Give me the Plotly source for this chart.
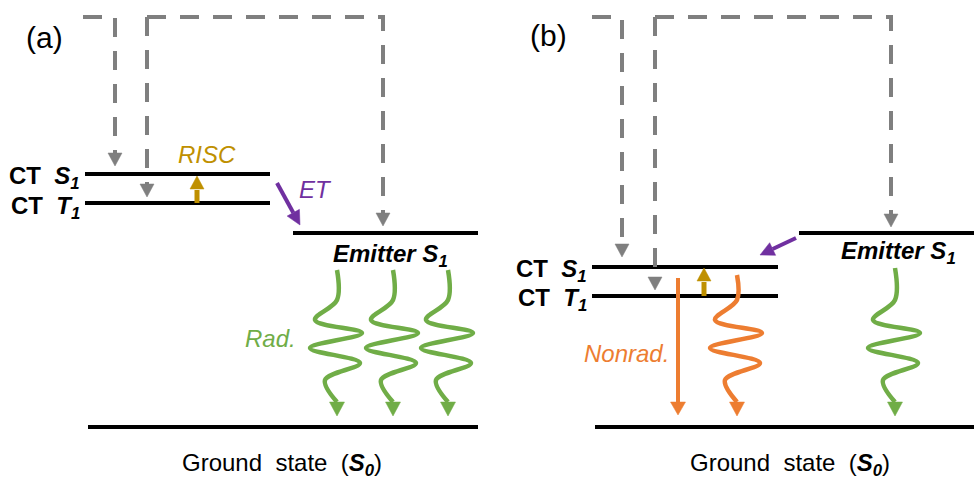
import numpy as np
import plotly.graph_objects as go

W, H = 974, 479
GRAY = "#7f7f7f"
GOLD = "#bf9000"
PURPLE = "#7030a0"
GREEN = "#70ad47"
ORANGE = "#ed7d31"
FONT = "Liberation Sans, Arial, sans-serif"

# ---- energy levels (diagram units, y grows downward) ----
level_names = ["a CT S1", "a CT T1", "a Emitter S1", "a Ground",
               "b CT S1", "b CT T1", "b Emitter S1", "b Ground"]
level_x0 = [85, 85, 293, 88, 592, 592, 799, 595]
level_x1 = [270, 270, 478, 478, 778, 778, 974, 974]
level_y = [174, 203, 233, 427, 267, 296, 233, 427]

# ---- excitation (dashed grey) paths ----
exc_start_x = [83, 147, 147, 592, 655, 655]
exc_drop_x = [115, 383, 147, 622, 891, 655]
exc_top_y = 17
exc_tip_y = [166, 226, 197, 257, 227, 290]

# ---- RISC arrows ----
risc_x = [197, 704]
risc_from_y = [203, 296]
risc_to_y = [176, 268]

# ---- energy-transfer arrows ----
et_x0 = [277, 796]
et_y0 = [183, 238]
et_x1 = [300, 760]
et_y1 = [225, 255]

# ---- wavy emission arrows ----
wave_cx = [337, 393, 448, 895, 737]
wave_top = [270, 270, 270, 268, 275]
wave_tip = [416, 416, 416, 416, 416]
wave_colors = [GREEN, GREEN, GREEN, GREEN, ORANGE]
wave_dx = [0, -22, 25, -27, 23, -12, 0]
wave_dy_from_tip = [-116, -96, -83, -68, -53, -36, -14]

# ---- straight non-radiative arrow ----
nr_x = [678]
nr_top = [278]
nr_tip = [415]

fig = go.Figure()


def add_line(xs, ys, color, width, dash=None, shape="linear"):
    fig.add_trace(go.Scatter(x=xs, y=ys, mode="lines",
                             line=dict(color=color, width=width, dash=dash, shape=shape,
                                       smoothing=1.0 if shape == "spline" else None),
                             hoverinfo="skip"))


def add_head(tx, ty, dx, dy, color, length=13, half=7):
    n = np.hypot(dx, dy)
    ux, uy = dx / n, dy / n
    bx, by = tx - ux * length, ty - uy * length
    px, py = -uy, ux
    xs = [tx, bx + px * half, bx - px * half, tx]
    ys = [ty, by + py * half, by - py * half, ty]
    fig.add_trace(go.Scatter(x=xs, y=ys, mode="lines", fill="toself", fillcolor=color,
                             line=dict(color=color, width=0.5), hoverinfo="skip"))
    return bx, by


# levels
for x0, x1, y in zip(level_x0, level_x1, level_y):
    add_line([x0, x1], [y, y], "black", 4)

# excitation
for sx, dxp, ty in zip(exc_start_x, exc_drop_x, exc_tip_y):
    base_y = ty - 13
    add_line([sx, dxp, dxp], [exc_top_y, exc_top_y, base_y], GRAY, 4, dash="19px,14px")
    add_head(dxp, ty, 0, 1, GRAY, length=13, half=7)

# RISC
for x, y0, y1 in zip(risc_x, risc_from_y, risc_to_y):
    bx, by = add_head(x, y1, 0, -1, GOLD, length=13, half=7)
    add_line([x, x], [y0, by + 1], GOLD, 5)

# ET
for x0, y0, x1, y1 in zip(et_x0, et_y0, et_x1, et_y1):
    bx, by = add_head(x1, y1, x1 - x0, y1 - y0, PURPLE, length=14, half=7)
    add_line([x0, bx], [y0, by], PURPLE, 4)

# waves
for cx, top, tip, col in zip(wave_cx, wave_top, wave_tip, wave_colors):
    xs = [cx] + [cx + d for d in wave_dx]
    ys = [top] + [tip + d for d in wave_dy_from_tip]
    add_line(xs, ys, col, 4.5, shape="spline")
    add_head(cx, tip, 0, 1, col, length=14, half=7.5)

# non-radiative straight
for x, t, tip in zip(nr_x, nr_top, nr_tip):
    bx, by = add_head(x, tip, 0, 1, ORANGE, length=13, half=7.5)
    add_line([x, x], [t, by + 1], ORANGE, 4)

# ---- text ----
text_items = [
    ("(a)", 44, 37, "center", "black", 30),
    ("(b)", 548, 35, "center", "black", 30),
    ("<b>CT  <i>S<sub>1</sub></i></b>", 82, 177, "right", "black", 24),
    ("<b>CT  <i>T<sub>1</sub></i></b>", 82, 207, "right", "black", 24),
    ("<b>CT  <i>S<sub>1</sub></i></b>", 589, 270, "right", "black", 24),
    ("<b>CT  <i>T<sub>1</sub></i></b>", 589, 299, "right", "black", 24),
    ("<i>RISC</i>", 207, 154, "center", GOLD, 24),
    ("<i>ET</i>", 315, 189, "center", PURPLE, 24),
    ("<b><i>Emitter S<sub>1</sub></i></b>", 390, 255, "center", "black", 24),
    ("<b><i>Emitter S<sub>1</sub></i></b>", 898, 252, "center", "black", 24),
    ("<i>Rad.</i>", 270, 338, "center", GREEN, 24),
    ("<i>Nonrad.</i>", 626, 353, "center", ORANGE, 24),
    ("Ground  state  (<b><i>S<sub>0</sub></i></b>)", 282, 464, "center", "black", 24),
    ("Ground  state  (<b><i>S<sub>0</sub></i></b>)", 790, 464, "center", "black", 24),
]
for txt, x, y, anchor, col, size in text_items:
    fig.add_annotation(x=x, y=y, xref="x", yref="y", text=txt, showarrow=False,
                       xanchor=anchor, yanchor="middle",
                       font=dict(family=FONT, size=size, color=col))

fig.update_layout(
    width=W, height=H, margin=dict(l=0, r=0, t=0, b=0),
    paper_bgcolor="white", plot_bgcolor="white", showlegend=False,
    xaxis=dict(range=[0, W], visible=False, fixedrange=True),
    yaxis=dict(range=[H, 0], visible=False, fixedrange=True),
)
fig.write_html("out.html")
